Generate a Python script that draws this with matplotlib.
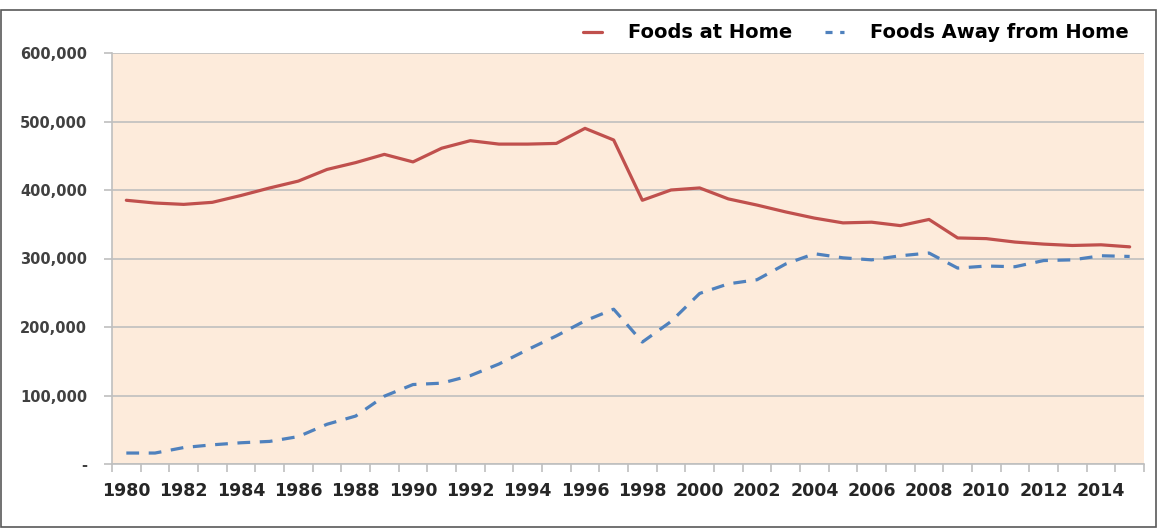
import matplotlib
matplotlib.use("Agg")
import matplotlib.pyplot as plt
from matplotlib.patches import Rectangle
from matplotlib.ticker import FixedLocator, FuncFormatter

years = list(range(1980, 2016))
foods_home = [385000, 381000, 379000, 382000, 392000, 403000, 413000, 430000, 440000, 452000,
              441000, 461000, 472000, 467000, 467000, 468000, 490000, 473000, 385000, 400000,
              403000, 387000, 378000, 368000, 359000, 352000, 353000, 348000, 357000, 330000,
              329000, 324000, 321000, 319000, 320000, 317000]
foods_away = [16000, 16000, 24000, 28000, 31000, 33000, 40000, 58000, 70000, 99000,
              116000, 118000, 129000, 146000, 167000, 187000, 209000, 226000, 178000, 208000,
              249000, 263000, 269000, 292000, 307000, 301000, 298000, 304000, 308000, 286000,
              289000, 288000, 297000, 298000, 304000, 303000]
y_ticks = [0, 100000, 200000, 300000, 400000, 500000, 600000]
x_label_years = list(range(1980, 2016, 2))

fig = plt.figure(figsize=(11.76, 5.31), dpi=100)
fig.patches.append(Rectangle((1/1176, 1 - 527/531), 1155/1176, 517/531, transform=fig.transFigure,
                             fill=False, edgecolor="#595959", linewidth=1.2))

ax = fig.add_axes([112/1176, 1 - 464/531, 1032/1176, 411/531])
ax.set_facecolor("#FDEBDB")
idx = list(range(len(years)))
ax.plot(idx, foods_home, color="#C0504D", lw=2.3, label="Foods at Home", solid_capstyle="round")
ax.plot(idx, foods_away, color="#4F81BD", lw=2.3, dashes=(4, 3), label="Foods Away from Home")

ax.set_xlim(-0.5, len(years) - 0.5)
ax.set_ylim(0, 600000)
ax.yaxis.set_major_locator(FixedLocator(y_ticks))
ax.yaxis.set_major_formatter(FuncFormatter(lambda v, p: "-" if v == 0 else f"{int(v):,}"))
ax.grid(axis="y", color="#BFBFBF", lw=1.2)
ax.set_axisbelow(True)

ax.set_xticks([years.index(y) for y in x_label_years])
ax.set_xticklabels([str(y) for y in x_label_years])
ax.set_xticks([i - 0.5 for i in range(len(years) + 1)], minor=True)
ax.tick_params(axis="x", which="major", length=0, pad=13, labelsize=12.5, labelcolor="#262626")
ax.tick_params(axis="x", which="minor", length=6, color="#BFBFBF", width=1.2)
ax.tick_params(axis="y", length=6, color="#BFBFBF", width=1.2, pad=12, labelsize=10.5, labelcolor="#404040")
for t in ax.get_xticklabels():
    t.set_fontweight("semibold")
for t in ax.get_yticklabels():
    t.set_fontweight("semibold")

for s in ["top", "right"]:
    ax.spines[s].set_visible(False)
ax.spines["left"].set_color("#BFBFBF")
ax.spines["left"].set_linewidth(1.2)
ax.spines["bottom"].set_color("#BFBFBF")
ax.spines["bottom"].set_linewidth(1.2)

leg = fig.legend(loc="upper right", bbox_to_anchor=(1146/1176, 1 - 6/531), ncol=2, frameon=False,
                 handlelength=1.0, columnspacing=1.7, handletextpad=1.3,
                 prop={"size": 14, "weight": "semibold"})
leg.legend_handles[1].set_dashes((2.2, 2.4))

fig.savefig("out.png", dpi=100)
